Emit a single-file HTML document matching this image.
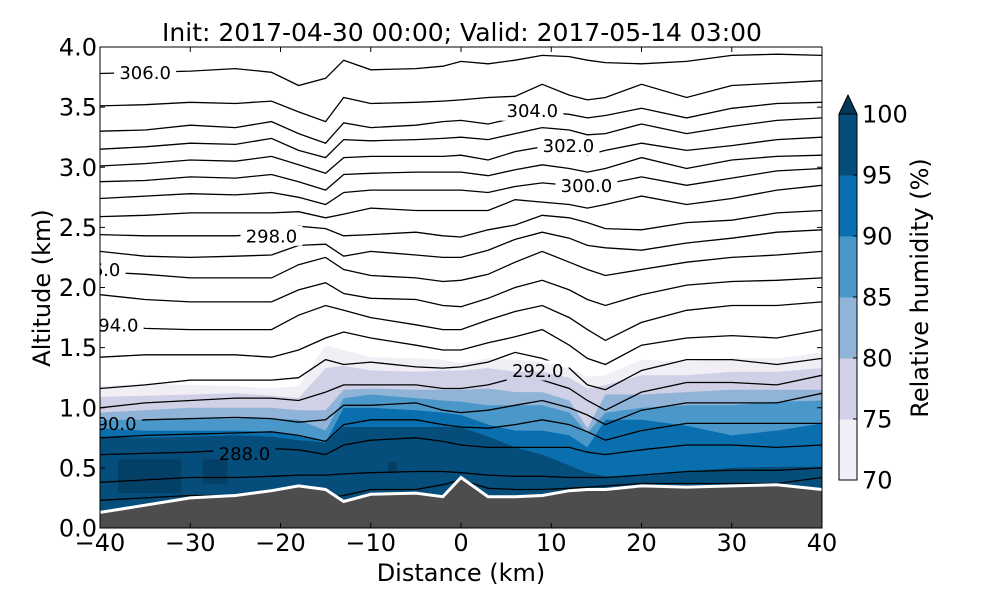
<!DOCTYPE html>
<html><head><meta charset="utf-8">
<style>
html,body{margin:0;padding:0;background:#fff;}
svg{display:block;font-family:"DejaVu Sans","Liberation Sans",sans-serif;}
</style></head>
<body>
<svg id="chart" width="1000" height="600" viewBox="0 0 1000 600" xmlns="http://www.w3.org/2000/svg">
<defs>
<clipPath id="plotclip"><rect x="100" y="47" width="722" height="481"/></clipPath>
<mask id="labelmask" maskUnits="userSpaceOnUse" x="0" y="0" width="1000" height="600"><rect x="0" y="0" width="1000" height="600" fill="#fff"/><g id="maskholes"></g></mask>
</defs>
<text x="462" y="41" font-size="25" text-anchor="middle">Init: 2017-04-30 00:00; Valid: 2017-05-14 03:00</text>
<g id="fills" clip-path="url(#plotclip)"></g>
<g id="contours" clip-path="url(#plotclip)"><g id="contourlines" mask="url(#labelmask)"></g><g id="contourlabels"></g></g>
<g id="terrain" clip-path="url(#plotclip)"></g>
<rect x="100" y="47" width="722" height="481" fill="none" stroke="#000" stroke-width="1"/>
<g id="axes"></g>
<text x="461" y="581" font-size="24" text-anchor="middle">Distance (km)</text>
<text transform="translate(50,288) rotate(-90)" font-size="24" text-anchor="middle">Altitude (km)</text>
<g id="colorbar"></g>
<text transform="translate(928,288) rotate(-90)" font-size="24" text-anchor="middle">Relative humidity (%)</text>
</svg>
<script>
const dist = [-40,-35,-30,-25,-21,-18,-15,-13,-10,-5,-2,0,3,6,9,12,14,16,20,25,30,35,40];
const terrainAlt = [0.13,0.19,0.25,0.27,0.31,0.35,0.32,0.22,0.28,0.29,0.26,0.42,0.26,0.26,0.27,0.31,0.32,0.32,0.35,0.34,0.35,0.36,0.32];
const thetaLines = [
[3.78,3.79,3.80,3.82,3.79,3.68,3.74,3.89,3.81,3.82,3.84,3.88,3.86,3.89,3.93,3.92,3.89,3.87,3.86,3.88,3.93,3.94,3.93],
[3.51,3.52,3.54,3.53,3.55,3.46,3.38,3.58,3.53,3.54,3.55,3.56,3.58,3.59,3.69,3.60,3.56,3.58,3.69,3.58,3.68,3.70,3.72],
[3.30,3.31,3.35,3.33,3.38,3.28,3.20,3.37,3.33,3.35,3.38,3.39,3.36,3.41,3.46,3.44,3.41,3.43,3.49,3.41,3.49,3.53,3.54],
[3.15,3.17,3.20,3.19,3.24,3.14,3.08,3.23,3.22,3.23,3.24,3.25,3.23,3.28,3.33,3.31,3.27,3.28,3.36,3.28,3.34,3.39,3.41],
[3.01,3.03,3.06,3.05,3.09,3.02,2.95,3.08,3.09,3.09,3.09,3.10,3.06,3.13,3.17,3.14,3.10,3.14,3.20,3.14,3.18,3.23,3.25],
[2.88,2.89,2.92,2.91,2.94,2.88,2.81,2.94,2.95,2.96,2.96,2.96,2.93,2.98,3.02,2.99,2.96,2.99,3.08,2.99,3.06,3.09,3.10],
[2.74,2.76,2.78,2.77,2.79,2.75,2.69,2.79,2.81,2.81,2.81,2.81,2.79,2.84,2.87,2.85,2.83,2.86,2.92,2.85,2.91,2.97,2.99],
[2.59,2.60,2.62,2.62,2.62,2.63,2.58,2.61,2.66,2.64,2.64,2.64,2.64,2.73,2.71,2.69,2.66,2.69,2.76,2.69,2.74,2.81,2.85],
[2.44,2.43,2.43,2.43,2.45,2.51,2.49,2.43,2.44,2.46,2.43,2.42,2.48,2.52,2.60,2.58,2.54,2.49,2.48,2.54,2.56,2.62,2.64],
[2.30,2.26,2.25,2.26,2.27,2.35,2.36,2.26,2.30,2.27,2.25,2.25,2.31,2.40,2.46,2.41,2.35,2.33,2.31,2.37,2.41,2.46,2.48],
[2.13,2.11,2.08,2.08,2.08,2.19,2.25,2.15,2.10,2.08,2.05,2.06,2.11,2.21,2.30,2.21,2.15,2.10,2.15,2.21,2.25,2.27,2.30],
[1.94,1.90,1.88,1.88,1.88,1.98,2.04,1.95,1.91,1.90,1.85,1.84,1.91,2.00,2.06,1.98,1.90,1.85,1.94,2.02,2.05,2.06,2.08],
[1.71,1.66,1.65,1.65,1.65,1.77,1.85,1.81,1.75,1.69,1.65,1.65,1.73,1.80,1.85,1.75,1.65,1.56,1.71,1.81,1.85,1.85,1.88],
[1.42,1.44,1.44,1.44,1.42,1.48,1.58,1.63,1.58,1.52,1.48,1.48,1.54,1.59,1.65,1.52,1.41,1.36,1.52,1.58,1.60,1.58,1.65],
[1.16,1.19,1.23,1.23,1.23,1.25,1.40,1.36,1.38,1.34,1.33,1.34,1.38,1.46,1.41,1.33,1.19,1.15,1.31,1.40,1.40,1.36,1.41],
[1.00,1.04,1.06,1.08,1.08,1.06,1.13,1.19,1.19,1.19,1.16,1.16,1.19,1.25,1.23,1.16,1.06,0.98,1.13,1.21,1.21,1.19,1.27],
[0.87,0.90,0.91,0.92,0.91,0.88,0.90,1.02,1.02,1.04,0.98,0.96,0.98,1.02,1.06,1.00,0.94,0.86,0.98,1.04,1.04,1.04,1.12],
[0.75,0.77,0.78,0.79,0.80,0.77,0.72,0.86,0.90,0.90,0.86,0.84,0.83,0.86,0.90,0.86,0.80,0.73,0.81,0.87,0.87,0.87,0.87],
[0.61,0.62,0.63,0.65,0.66,0.65,0.61,0.69,0.73,0.75,0.72,0.69,0.67,0.67,0.67,0.67,0.63,0.61,0.65,0.69,0.69,0.67,0.69],
[0.38,0.40,0.42,0.42,0.43,0.44,0.44,0.45,0.46,0.47,0.47,0.46,0.44,0.43,0.43,0.42,0.42,0.42,0.44,0.47,0.48,0.48,0.50],
[0.23,0.25,0.27,0.27,0.27,0.27,0.25,0.27,0.32,0.32,0.36,0.40,0.33,0.32,0.32,0.33,0.34,0.35,0.37,0.37,0.37,0.37,0.42]
];
const rhLevels = [70,75,80,85,90,95];
const rhColors = ["#f1eef6","#d0d1e6","#90b4d7","#4a98c9","#0a6fae","#054d7b"];
const rhTop70 = [1.18,1.20,1.19,1.18,1.16,1.18,1.52,1.48,1.42,1.41,1.40,1.37,1.41,1.40,1.38,1.33,1.26,1.27,1.40,1.38,1.41,1.41,1.46];
const rhTop75 = [1.09,1.10,1.11,1.12,1.10,1.08,1.33,1.35,1.31,1.30,1.31,1.31,1.33,1.30,1.30,1.25,1.16,1.19,1.27,1.27,1.30,1.30,1.33];
const rhTop80 = [0.96,0.98,1.00,1.00,1.00,0.98,0.98,1.15,1.16,1.15,1.15,1.15,1.16,1.13,1.13,1.06,0.83,1.11,1.11,1.13,1.15,1.15,1.15];
const rhTop85 = [0.90,0.90,0.91,0.91,0.91,0.90,0.81,1.08,1.11,1.08,1.06,1.05,1.02,1.02,1.02,0.96,0.79,0.96,1.00,1.02,1.02,1.05,1.06];
const rhTop90 = [0.83,0.81,0.81,0.81,0.80,0.77,0.71,1.00,1.00,0.98,0.96,0.94,0.86,0.81,0.81,0.77,0.67,0.90,0.90,0.85,0.77,0.81,0.87];
const rhTop95 = [0.76,0.75,0.76,0.77,0.76,0.73,0.71,0.84,0.84,0.84,0.84,0.84,0.76,0.67,0.61,0.52,0.46,0.43,0.43,0.47,0.50,0.51,0.51];
const over100Patches = [[-38,-31,0.29,0.57],[-28.6,-25.9,0.37,0.57],[-8.1,-7.1,0.46,0.55]];
const contourLabelText = ["306.0","304.0","302.0","300.0","298.0","296.0","294.0","292.0","290.0","288.0"];
const contourLabelDist = [-35,7.9,11.9,13.9,-21,-40.6,-38.6,8.5,-38.8,-24];
const contourLabelAlt = [3.79,3.47,3.18,2.85,2.43,2.15,1.69,1.31,0.87,0.62];
const xTicks = [-40,-30,-20,-10,0,10,20,30,40];
const yTicks = [0.0,0.5,1.0,1.5,2.0,2.5,3.0,3.5,4.0];
const cbTicks = [70,75,80,85,90,95,100];

const NS="http://www.w3.org/2000/svg";
const X0=100,X1=822,Y0=528,Y1=47;
function xs(d){return X0+(d+40)*(X1-X0)/80;}
function ys(a){return Y0-a*(Y0-Y1)/4;}
function mk(tag,attrs,parent){const e=document.createElementNS(NS,tag);for(const k in attrs)e.setAttribute(k,attrs[k]);parent.appendChild(e);return e;}
function pts(arr){return arr.map((a,i)=>xs(dist[i]).toFixed(1)+","+ys(a).toFixed(1)).join(" ");}

const fillsG=document.getElementById('fills');
const tops=[rhTop70,rhTop75,rhTop80,rhTop85,rhTop90,rhTop95];
tops.forEach((t,i)=>{
  const p=pts(t)+" "+xs(40)+","+ys(-0.1)+" "+xs(-40)+","+ys(-0.1);
  const el=mk('polygon',{points:p,fill:rhColors[i]},fillsG);
  
  
});
over100Patches.forEach((r,i)=>{
  const el=mk('rect',{x:xs(r[0]),y:ys(r[3]),width:xs(r[1])-xs(r[0]),height:ys(r[2])-ys(r[3]),fill:"#043f66"},fillsG);
  
  
});

const holes=document.getElementById('maskholes');
const labG=document.getElementById('contourlabels');
contourLabelText.forEach((t,i)=>{
  const cx=xs(contourLabelDist[i]),cy=ys(contourLabelAlt[i]);
  mk('rect',{x:cx-31,y:cy-10,width:62,height:20,fill:"#000"},holes);
  const el=mk('text',{x:cx,y:cy+6.5,'font-size':18,'text-anchor':'middle',fill:'#000'},labG);
  el.textContent=t;
  
  
});
const clG=document.getElementById('contourlines');
thetaLines.forEach((l,i)=>{
  const el=mk('polyline',{points:pts(l),fill:'none',stroke:'#000','stroke-width':1.3},clG);
  
  
});

const tG=document.getElementById('terrain');
const tp=pts(terrainAlt);
const tpoly=mk('polygon',{points:tp+" "+xs(40)+","+(Y0+2)+" "+xs(-40)+","+(Y0+2),fill:'#4d4d4d'},tG);


const tline=mk('polyline',{points:tp,fill:'none',stroke:'#fff','stroke-width':3},tG);



const aG=document.getElementById('axes');
xTicks.forEach(v=>{
  const x=xs(v);
  mk('line',{x1:x,y1:Y0,x2:x,y2:Y0-5,stroke:'#000'},aG);
  mk('line',{x1:x,y1:Y1,x2:x,y2:Y1+5,stroke:'#000'},aG);
  const t=mk('text',{x:x,y:551,'font-size':24,'text-anchor':'middle'},aG);
  t.textContent=(v<0?'\u2212':'')+Math.abs(v);
  
  
});
yTicks.forEach(v=>{
  const y=ys(v);
  mk('line',{x1:X0,y1:y,x2:X0+5,y2:y,stroke:'#000'},aG);
  mk('line',{x1:X1,y1:y,x2:X1-5,y2:y,stroke:'#000'},aG);
  const t=mk('text',{x:97,y:y+8.5,'font-size':24,'text-anchor':'end'},aG);
  t.textContent=v.toFixed(1);
  
  
});

const cG=document.getElementById('colorbar');
const CB0=480,CB1=114,CX=839,CW=18;
function cy(v){return CB0-(v-70)*(CB0-CB1)/30;}
rhLevels.forEach((lv,i)=>{
  const r=mk('rect',{x:CX,y:cy(lv+5),width:CW,height:cy(lv)-cy(lv+5)+0.5,fill:rhColors[i]},cG);
  
  
});
const tri=mk('polygon',{points:CX+","+CB1+" "+(CX+CW)+","+CB1+" "+(CX+CW/2)+",95",fill:'#023858',stroke:'#000','stroke-width':1},cG);


mk('rect',{x:CX,y:CB1,width:CW,height:CB0-CB1,fill:'none',stroke:'#000','stroke-width':1},cG);
cbTicks.forEach(v=>{
  const y=cy(v);
  mk('line',{x1:CX+CW-4,y1:y,x2:CX+CW,y2:y,stroke:'#000'},cG);
  const t=mk('text',{x:862,y:y+8.5,'font-size':24},cG);
  t.textContent=v;
  
  
});
</script>
</body></html>
